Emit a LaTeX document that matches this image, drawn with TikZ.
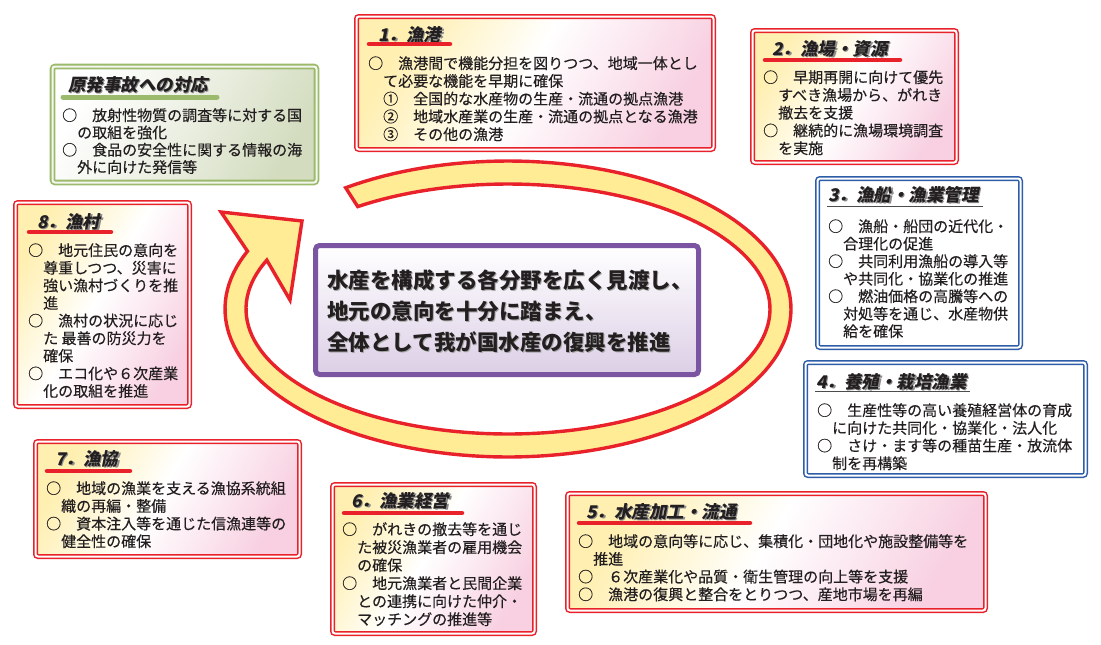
\documentclass[tikz,border=0pt]{standalone}
\usepackage{fontspec}
\newfontfamily\jp{Noto Sans CJK JP}[FakeBold=0.35]
\newfontfamily\jpc{Noto Sans CJK JP}
\newfontfamily\jpsl{Noto Sans CJK JP}[FakeSlant=0.2]
\definecolor{rd}{HTML}{E8212B}
\definecolor{bl}{HTML}{2E5DA8}
\definecolor{gr}{HTML}{9CBA6C}
\definecolor{pu}{HTML}{7B55A1}
\definecolor{yl}{HTML}{FFEC94}
\definecolor{byel}{HTML}{FFEFB0}
\definecolor{bpink}{HTML}{F8D0E1}
\definecolor{txt}{HTML}{231F20}
\definecolor{gfill}{HTML}{D3DCBF}
\definecolor{pbot}{HTML}{DCCFE6}
\pgfdeclarehorizontalshading{redfill}{100bp}{color(0bp)=(byel); color(25bp)=(byel); color(48bp)=(white); color(75bp)=(bpink); color(100bp)=(bpink)}
\pgfdeclarehorizontalshading{grnfill}{100bp}{color(0bp)=(white); color(25bp)=(white); color(50bp)=(gfill!45); color(75bp)=(gfill); color(100bp)=(gfill)}
\pgfdeclareverticalshading{pufill}{100bp}{color(0bp)=(pbot); color(25bp)=(pbot); color(75bp)=(white); color(100bp)=(white)}
\newcommand\bstrut{\rule{0pt}{14pt}}
\tikzset{
  dbox/.style={shape=rectangle, line width=1.5pt, double distance=2pt, rounded corners=2.5pt, inner sep=0pt, outer sep=0pt, anchor=north west},
  rbox/.style={dbox, draw=rd, double=white, shade, shading=redfill, shading angle=-30},
  bbox/.style={dbox, draw=bl, double=white, fill=white},
  gbox/.style={dbox, draw=gr, double=gfill!25, line width=1.8pt, shade, shading=grnfill, shading angle=-30},
  cbox/.style={shape=rectangle, draw=pu, line width=5pt, rounded corners=4pt, shade, shading=pufill, inner sep=0pt, outer sep=0pt, anchor=north west},
  ttl/.style={font=\jpsl\bfseries\fontsize{17.5}{20}\selectfont, text=txt, anchor=base west, inner sep=0pt},
  ttlsh/.style={ttl, text=black!45},
  body/.style={font=\jp\fontsize{15}{17.7}\selectfont, text=txt, anchor=north west, inner sep=0pt, align=left},
  ctext/.style={font=\jpc\bfseries\fontsize{21.5}{31}\selectfont, text=txt, anchor=north west, inner sep=0pt, align=left},
  ctextsh/.style={ctext, text=black!35},
  rul/.style={rd, line width=4.5pt, line cap=round},
  gul/.style={gr, line width=5pt, line cap=round},
  kul/.style={black!70, line width=1pt},
  band/.style={fill=yl, draw=rd, line width=3.4pt, line join=miter}
}
\newcommand\ttlnode[4]{%
  \node[ttlsh] (#1s) at ($(#2,#3)+(1.2,1.2)$) {#4};
  \node[ttl] (#1) at (#2,#3) {#4};}
\usetikzlibrary{calc}
\begin{document}
\begin{tikzpicture}[x=1pt,y=-1pt]
\fill[white] (0,0) rectangle (1101,645);
\useasboundingbox (0,0) rectangle (1101,645);

% circular arrow band
\path[band] plot[domain=-125:203, samples=150] ({508+283*cos(\x)},{309+148*sin(\x)})
  -- (221,212) -- (302,221) -- (290,300)
  -- plot[domain=-125:203, samples=150] ({508+262*cos(78-\x)},{309+125*sin(78-\x)}) -- cycle;

% centre box
\node[cbox, minimum width=383pt, minimum height=129pt] (c) at (315.5,245.5) {};
\node[ctextsh] (cts) at (328.2,269.4) {\rule{0pt}{20pt}水産を構成する各分野を広く見渡し、\\地元の意向を十分に踏まえ、\\全体として我が国水産の復興を推進};
\node[ctext] (ct) at (327,268.2) {\rule{0pt}{20pt}水産を構成する各分野を広く見渡し、\\地元の意向を十分に踏まえ、\\全体として我が国水産の復興を推進};

% green box
\node[gbox, minimum width=264pt, minimum height=116pt] (g) at (52.5,66.5) {};
\ttlnode{gt}{68}{91.6}{原発事故への対応}
\draw[gul] (63,97) -- (217,97);
\node[body, font=\jp\fontsize{15}{17.3}\selectfont] (gb) at (62,106.7) {\bstrut○　放射性物質の調査等に対する国\\　の取組を強化\\○　食品の安全性に関する情報の海\\　外に向けた発信等};

% box 1
\node[rbox, minimum width=357pt, minimum height=133pt] (b1) at (356.5,16.5) {};
\ttlnode{b1t}{378}{41.6}{1．漁港}
\draw[rul] (369,44) -- (450,44);
\node[body, font=\jp\fontsize{15}{17.75}\selectfont] (b1b) at (368,54.7) {\bstrut○　漁港間で機能分担を図りつつ、地域一体とし\\　て必要な機能を早期に確保\\　①　全国的な水産物の生産・流通の拠点漁港\\　②　地域水産業の生産・流通の拠点となる漁港\\　③　その他の漁港};

% box 2
\node[rbox, minimum width=204pt, minimum height=132pt] (b2) at (752.5,30.5) {};
\ttlnode{b2t}{772}{55.6}{2．漁場・資源}
\draw[rul] (765,60) -- (900,60);
\node[body, font=\jp\fontsize{15}{17.75}\selectfont] (b2b) at (763,68.7) {\bstrut○　早期再開に向けて優先\\　すべき漁場から、がれき\\　撤去を支援\\○　継続的に漁場環境調査\\　を実施};

% box 3
\node[bbox, minimum width=203pt, minimum height=169pt] (b3) at (817.5,178.5) {};
\ttlnode{b3t}{828}{201.6}{3．漁船・漁業管理}
\draw[kul] (827,206) -- (983,206);
\node[body, font=\jp\fontsize{15}{17.5}\selectfont] (b3b) at (828,217.7) {\bstrut○　漁船・船団の近代化・\\　合理化の促進\\○　共同利用漁船の導入等\\　や共同化・協業化の推進\\○　燃油価格の高騰等への\\　対処等を通じ、水産物供\\　給を確保};

% box 4
\node[bbox, minimum width=280pt, minimum height=113pt] (b4) at (805.5,362.5) {};
\ttlnode{b4t}{816}{388.6}{4．養殖・栽培漁業}
\draw[kul] (815,391) -- (970,391);
\node[body] (b4b) at (817,401.7) {\bstrut○　生産性等の高い養殖経営体の育成\\　に向けた共同化・協業化・法人化\\○　さけ・ます等の種苗生産・放流体\\　制を再構築};

% box 5
\node[rbox, minimum width=418pt, minimum height=117pt] (b5) at (567.5,493.5) {};
\ttlnode{b5t}{586}{518.6}{5．水産加工・流通}
\draw[rul] (579,523) -- (750,523);
\node[body] (b5b) at (578,532.7) {\bstrut○　地域の意向等に応じ、集積化・団地化や施設整備等を\\　推進\\○　６次産業化や品質・衛生管理の向上等を支援\\○　漁港の復興と整合をとりつつ、産地市場を再編};

% box 6
\node[rbox, minimum width=202pt, minimum height=149pt] (b6) at (332.5,484.5) {};
\ttlnode{b6t}{351}{507.6}{6．漁業経営}
\draw[rul] (344,513) -- (462,513);
\node[body, font=\jp\fontsize{15}{18}\selectfont] (b6b) at (342,520.7) {\bstrut○　がれきの撤去等を通じ\\　た被災漁業者の雇用機会\\　の確保\\○　地元漁業者と民間企業\\　との連携に向けた仲介・\\　マッチングの推進等};

% box 7
\node[rbox, minimum width=264pt, minimum height=115pt] (b7) at (35.5,441.5) {};
\ttlnode{b7t}{55}{465.6}{7．漁協}
\draw[rul] (47,471) -- (130,471);
\node[body] (b7b) at (46,479.7) {\bstrut○　地域の漁業を支える漁協系統組\\　織の再編・整備\\○　資本注入等を通じた信漁連等の\\　健全性の確保};

% box 8
\node[rbox, minimum width=174pt, minimum height=204pt] (b8) at (15.5,202.5) {};
\ttlnode{b8t}{37}{228.6}{8．漁村}
\draw[rul] (29,232) -- (111,232);
\node[body, font=\jp\fontsize{15}{17.6}\selectfont] (b8b) at (28,241.7) {\bstrut○　地元住民の意向を\\　尊重しつつ、災害に\\　強い漁村づくりを推\\　進\\○　漁村の状況に応じ\\　た 最善の防災力を\\　確保\\○　エコ化や６次産業\\　化の取組を推進};
\end{tikzpicture}
\end{document}
